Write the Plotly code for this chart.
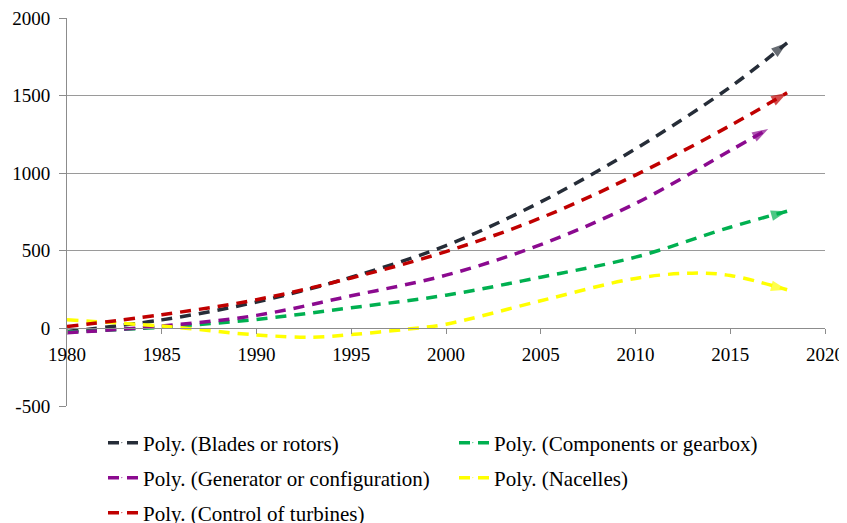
import plotly.graph_objects as go

# ---- data ----
years_a = [1980, 1985, 1990, 1995, 2000, 2005, 2010, 2015, 2018]
blades = [-20, 55, 170, 330, 534, 815, 1157, 1555, 1840]
control = [12, 88, 185, 325, 495, 712, 988, 1307, 1518]
components = [-24, 8, 58, 133, 214, 330, 459, 652, 755]

years_gen = [1980, 1985, 1990, 1995, 2000, 2005, 2010, 2015, 2017]
generator = [-28, 15, 84, 210, 343, 540, 805, 1146, 1285]

years_nac = [1980, 1985, 1990, 1993, 1995, 1998, 2000, 2005, 2010, 2013, 2015, 2018]
nacelles = [55, 15, -42, -57, -40, -4, 27, 178, 322, 356, 341, 249]

x_ticks = [1980, 1985, 1990, 1995, 2000, 2005, 2010, 2015, 2020]
y_ticks = [-500, 0, 500, 1000, 1500, 2000]

FONT = "Liberation Serif, Times New Roman, serif"

series = [
    ("Poly. (Blades or rotors)", years_a, blades, "#262d38", "legend"),
    ("Poly. (Components or gearbox)", years_a, components, "#00b050", "legend"),
    ("Poly. (Generator or configuration)", years_gen, generator, "#8b0a8f", "legend2"),
    ("Poly. (Nacelles)", years_nac, nacelles, "#ffff00", "legend2"),
    ("Poly. (Control of turbines)", years_a, control, "#c00000", "legend3"),
]

W, H = 839, 515  # page body adds an 8px offset

fig = go.Figure()
for name, xs, ys, col, leg in series:
    n = len(xs)
    fig.add_trace(go.Scatter(
        x=xs, y=ys, name=name, mode="lines+markers",
        line=dict(color=col, width=3.5, dash="11px,8px", shape="spline", smoothing=1.0),
        marker=dict(symbol="arrow", angleref="previous", color=col,
                    size=[0] * (n - 1) + [17], line=dict(width=0)),
        legend=leg,
    ))

fig.update_layout(
    width=W, height=H,
    margin=dict(l=59, r=22, t=10, b=117, autoexpand=False),
    paper_bgcolor="white", plot_bgcolor="white",
    font=dict(family=FONT, size=19, color="black"),
    xaxis=dict(
        range=[1980, 2020], tickvals=x_ticks, ticktext=[str(v) for v in x_ticks],
        showgrid=False, zeroline=False, automargin=False,
        showline=True, linecolor="#8c8c8c", linewidth=1,
        ticks="outside", ticklen=5, tickcolor="#8c8c8c",
        anchor="free", position=0.2,
        ticklabelstandoff=4, ticklabeloverflow="allow",
        tickfont=dict(family=FONT, size=19),
    ),
    yaxis=dict(
        range=[-500, 2000], tickvals=y_ticks, ticktext=[str(v) for v in y_ticks],
        showgrid=True, gridcolor="#9a9a9a", gridwidth=1, zeroline=False, automargin=False,
        showline=True, linecolor="#8c8c8c", linewidth=1,
        ticks="outside", ticklen=7, tickcolor="#8c8c8c",
        ticklabelstandoff=5, ticklabeloverflow="allow",
        tickfont=dict(family=FONT, size=19),
    ),
)

leg_common = dict(orientation="h", xref="container", yref="container",
                  x=95 / W, xanchor="left", yanchor="middle",
                  entrywidth=306, entrywidthmode="pixels",
                  font=dict(family=FONT, size=21, color="black"),
                  bgcolor="rgba(0,0,0,0)", borderwidth=0)
fig.update_layout(
    legend=dict(leg_common, y=(H - 435) / H),
    legend2=dict(leg_common, y=(H - 470) / H),
    legend3=dict(leg_common, y=(H - 505) / H),
)

fig.write_html("out.html")
